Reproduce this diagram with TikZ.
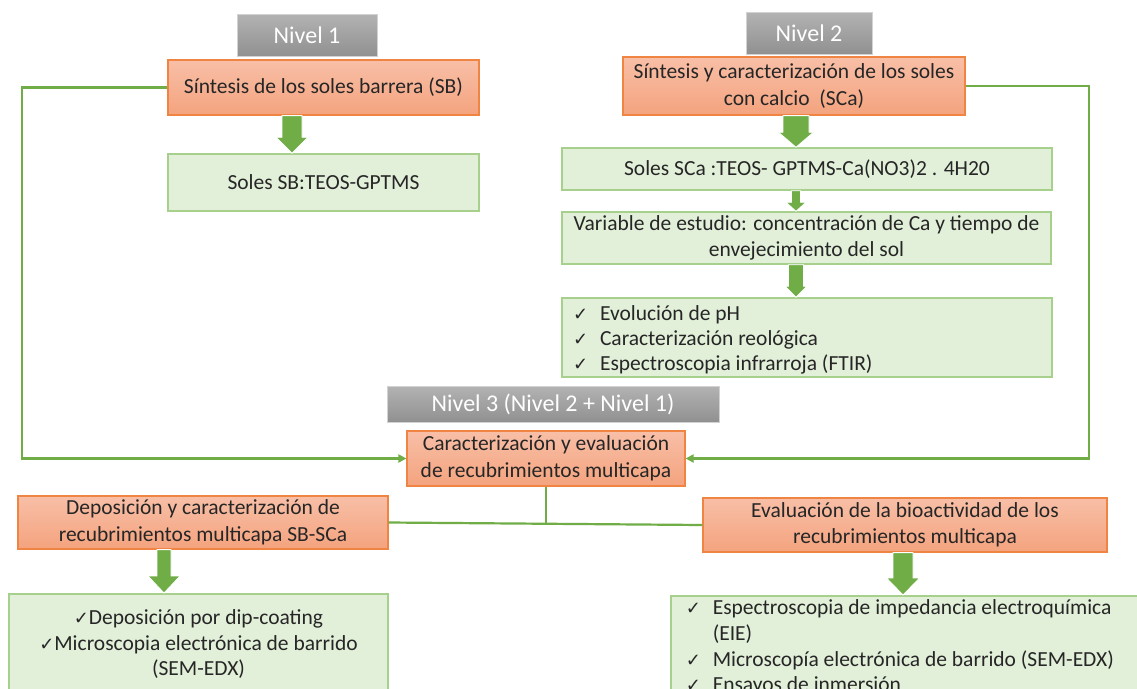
\documentclass[tikz,border=0pt]{standalone}
\usepackage{fontspec}
\setmainfont{Carlito}
\newfontfamily\dejavu{DejaVu Sans}
\usetikzlibrary{arrows.meta,calc}
\definecolor{orA}{HTML}{F8BFA7}
\definecolor{orB}{HTML}{F4A37E}
\definecolor{orL}{HTML}{F08443}
\definecolor{grF}{HTML}{E2EFD9}
\definecolor{grL}{HTML}{A8D08D}
\definecolor{arrG}{HTML}{70AD47}
\definecolor{gyA}{HTML}{B3B3B3}
\definecolor{gyB}{HTML}{909090}
\definecolor{gyL}{HTML}{D2D2D2}
\definecolor{txt}{HTML}{262626}
\newcommand\mainsz{\fontsize{21.5}{26.5}\selectfont}
\newcommand\ck{\makebox[27pt][l]{\dejavu\fontsize{18}{18}\selectfont ✓}}
\newcommand\cki{{\dejavu\fontsize{18}{18}\selectfont ✓}}
\newcommand\barr[6]{%
  \fill[arrG,draw=white,line width=0.8pt] let \p1=(#1), \p2=(#2) in
    (#3pt-#4pt,\y1) -- (#3pt-#4pt,{\y2+#6pt}) -- (#3pt-#5pt,{\y2+#6pt}) --
    (#3pt,\y2) -- (#3pt+#5pt,{\y2+#6pt}) -- (#3pt+#4pt,{\y2+#6pt}) --
    (#3pt+#4pt,\y1) -- cycle;}
\begin{document}
\begin{tikzpicture}[x=1pt,y=-1pt,
  orbox/.style={draw=orL,line width=1.2pt,top color=orA,bottom color=orB,
    inner sep=0pt,align=center,font=\mainsz,text=txt},
  grbox/.style={draw=grL,line width=1.5pt,fill=grF,inner sep=0pt,
    align=center,font=\mainsz,text=txt},
  gybox/.style={draw=gyL,line width=1pt,top color=gyA,bottom color=gyB,
    inner sep=0pt,text=white,font=\fontsize{24}{28}\selectfont},
  link/.style={draw=arrG,line width=2.2pt},
  tip/.style={-{Triangle[length=8pt,width=8pt]}}]
\useasboundingbox (0,0) rectangle (1137,688);
\clip (0,0) rectangle (1137,688);
\fill[white] (0,0) rectangle (1137,688);

% Level labels
\node[gybox,minimum width=140pt,minimum height=42pt] (n1) at (307,35) {Nivel 1};
\node[gybox,minimum width=126pt,minimum height=42pt] (n2) at (809,33) {Nivel 2};
\node[gybox,minimum width=332pt,minimum height=36pt] (n3) at (553,404) {Nivel 3 (Nivel 2 + Nivel 1)};

% Level 1
\node[orbox,minimum width=311pt,minimum height=55pt] (sb) at (323.5,87.5)
  {Síntesis de los soles barrera (SB)};
\node[grbox,minimum width=311pt,minimum height=57pt] (sbg) at (323.5,182.5)
  {Soles SB:TEOS-GPTMS};

% Level 2
\node[orbox,minimum width=342pt,minimum height=58pt] (sca) at (794,86)
  {Síntesis y caracterización de los soles\\con calcio\ \ (SCa)};
\node[grbox,minimum width=490pt,minimum height=42pt] (scag) at (807,169)
  {Soles SCa :TEOS- GPTMS-Ca(NO3)2 . 4H20};
\node[grbox,minimum width=489pt,minimum height=52pt] (var) at (806.5,238)
  {Variable de estudio: concentración de Ca y tiempo de\\envejecimiento del sol};
\node[grbox,minimum height=79pt,text width=468pt,align=flush left,inner xsep=11pt,
  font=\fontsize{21.5}{25}\selectfont] (chk) at (807,337.5)
  {\ck Evolución de pH\\\ck Caracterización reológica\\\ck Espectroscopia infrarroja (FTIR)\vphantom{p}\vspace*{-4pt}};

% Level 3
\node[orbox,minimum width=278pt,minimum height=55pt] (car) at (546,458.5)
  {Caracterización y evaluación\\de recubrimientos multicapa};
\node[orbox,minimum width=370pt,minimum height=53pt] (dep) at (203,522.5)
  {Deposición y caracterización de\\recubrimientos multicapa SB-SCa};
\node[orbox,minimum width=404pt,minimum height=54pt] (eva) at (905,525)
  {Evaluación de la bioactividad de los\\recubrimientos multicapa};
\node[grbox,anchor=north,text width=379pt,align=flush center,inner xsep=0pt,inner ysep=16pt,
  font=\fontsize{21.5}{25.5}\selectfont] (depg) at (198.5,593)
  {\cki Deposición por dip-coating\\\cki Microscopia electrónica de barrido\\(SEM-EDX)};
\node[grbox,anchor=north west,text width=470pt,align=flush left,inner xsep=15pt,inner ysep=4pt,
  font=\fontsize{21.5}{25.7}\selectfont] (evag) at (670,595)
  {\ck Espectroscopia de impedancia electroquímica\\\hspace*{27pt}(EIE)\\
   \ck Microscopía electrónica de barrido (SEM-EDX)\\\ck Ensayos de inmersión};

% connector corners
\coordinate (lc) at (22,87);
\coordinate (rc) at (1089,85);
\coordinate (jn) at (546,523);

\draw[link,tip] (sb.west) -- (sb.west -| lc) |- (car.west);
\draw[link,tip] (sca.east) -- (sca.east -| rc) |- (car.east);
\draw[link] (car.south) -- (car.south |- jn);
\draw[link] (dep.east) -- (eva.west);

% block arrows
\barr{sb.south}{sbg.north}{292}{10}{16}{16}
\barr{sca.south}{scag.north}{796}{13}{17.5}{15}
\barr{scag.south}{var.north}{796}{4.5}{10}{9}
\barr{var.south}{chk.north}{796}{7.5}{11}{11}
\barr{dep.south}{depg.north}{164}{7}{16}{17}
\barr{eva.south}{evag.north}{903}{10}{16.5}{17}
\end{tikzpicture}
\end{document}
